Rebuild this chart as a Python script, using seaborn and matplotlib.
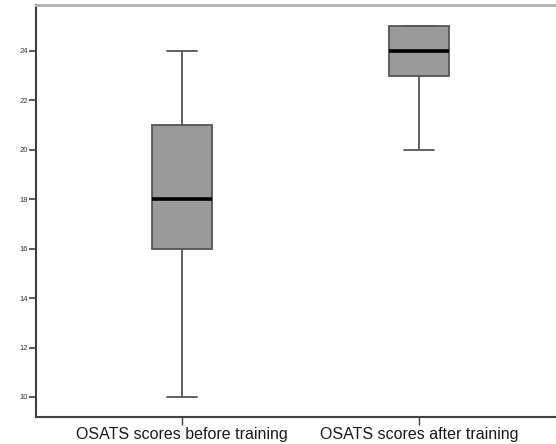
import pandas as pd
import matplotlib.pyplot as plt
import seaborn as sns

# five scores per group giving the quartiles/whiskers
groups = ["OSATS scores before training", "OSATS scores after training"]
scores_before = [10, 16, 18, 21, 24]
scores_after = [20, 23, 24, 25, 25]
y_ticks = [10, 12, 14, 16, 18, 20, 22, 24]

df = pd.DataFrame({
    "group": [groups[0]] * len(scores_before) + [groups[1]] * len(scores_after),
    "score": scores_before + scores_after,
})

sns.set_style("white")
plt.rcParams['font.family'] = ['Liberation Sans', 'DejaVu Sans']

fig = plt.figure(figsize=(5.56, 4.44), dpi=100)
ax = fig.add_axes([0.0647, 0.0608, 0.9353, 0.928])

sns.boxplot(data=df, x="group", y="score", order=groups, width=0.25,
            whis=(0, 100), color="#9a9a9a", saturation=1, ax=ax,
            boxprops=dict(edgecolor="#555555", linewidth=1.3),
            whiskerprops=dict(color="#555555", linewidth=1.3),
            capprops=dict(color="#555555", linewidth=1.3),
            medianprops=dict(color="black", linewidth=2.6),
            showfliers=False)

ax.set_xlim(-0.616, 1.578)
ax.set_ylim(9.19, 25.86)
ax.set_yticks(y_ticks)
ax.set_xlabel("")
ax.set_ylabel("")

ax.tick_params(axis="y", left=True, length=5, width=1.2, color="#404040",
               labelsize=5.5, labelcolor="#333333", pad=1)
ax.tick_params(axis="x", bottom=True, length=6, width=1.0, color="#404040",
               labelsize=11.5, labelcolor="#1a1a1a", pad=1)

for side in ["left", "bottom"]:
    ax.spines[side].set_color("#404040")
    ax.spines[side].set_linewidth(1.5)
ax.spines["top"].set_color("#b0b0b0")
ax.spines["top"].set_linewidth(2)
ax.spines["right"].set_visible(False)

fig.savefig("out.png", dpi=100)
plt.close()
